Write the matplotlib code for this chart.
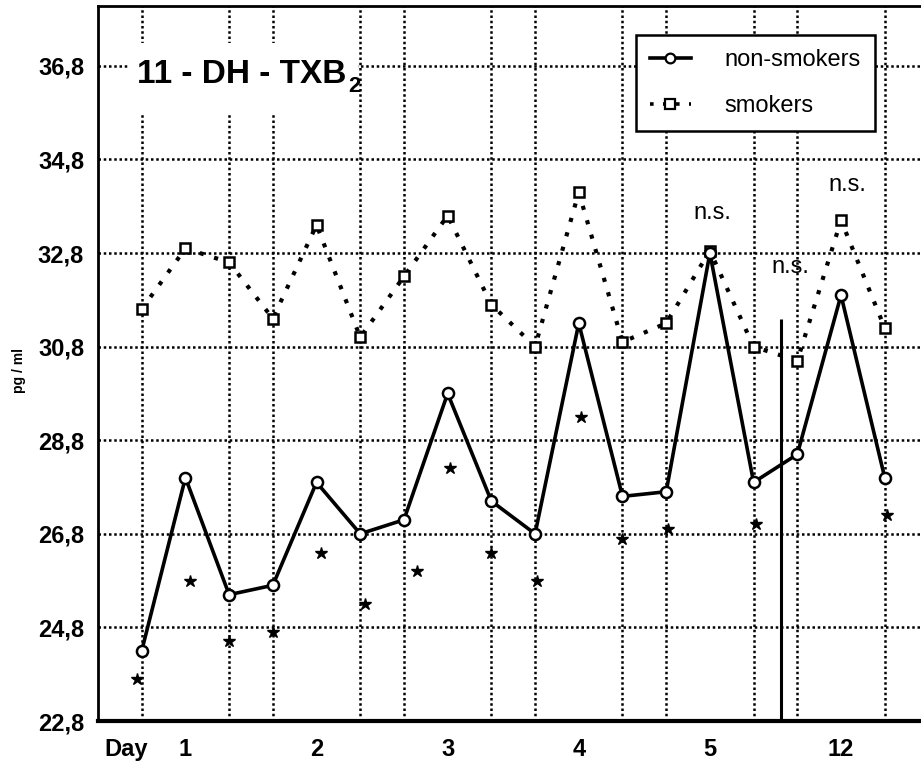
import matplotlib
matplotlib.use("Agg")  # headless backend
import matplotlib.pyplot as plt
from matplotlib.lines import Line2D
from matplotlib.patches import Rectangle

# measurement slots (3 per day), values in pg/ml
slots = list(range(18))
non_smokers = [24.3, 28.0, 25.5, 25.7, 27.9, 26.8, 27.1, 29.8, 27.5,
               26.8, 31.3, 27.6, 27.7, 32.8, 27.9, 28.5, 31.9, 28.0]
smokers = [31.6, 32.9, 32.6, 31.4, 33.4, 31.0, 32.3, 33.6, 31.7,
           30.8, 34.1, 30.9, 31.3, 32.85, 30.8, 30.5, 33.5, 31.2]

# significance stars
star_x = [-0.1, 1.1, 2.0, 3.0, 4.1, 5.1, 6.3, 7.05, 8.0, 9.05, 10.05, 11.0, 12.05, 14.05, 17.05]
star_y = [23.7, 25.8, 24.5, 24.7, 26.4, 25.3, 26.0, 28.2, 26.4, 25.8, 29.3, 26.7, 26.9, 27.0, 27.2]

# "n.s." annotations
ns_x = [13.05, 14.85, 16.15]
ns_y = [33.65, 32.5, 34.25]

day_ticks = [-0.35, 1, 4, 7, 10, 13, 16]
day_labels = ["Day", "1", "2", "3", "4", "5", "12"]
y_ticks = [22.8, 24.8, 26.8, 28.8, 30.8, 32.8, 34.8, 36.8]

break_x = 14.63      # day 5 / day 12 separator
break_top = 31.4

plt.rcParams["font.family"] = ["Liberation Sans", "DejaVu Sans"]

fig = plt.figure(figsize=(9.21, 7.69), dpi=100)
ax = fig.add_axes([98 / 921, 48 / 769, 1 - 98 / 921, 715 / 769])
ax.set_xlim(-1.0, 17.83)
ax.set_ylim(22.8, 38.08)
ax.set_axisbelow(True)

dot = (0, (1, 1.1))
ax.set_yticks(y_ticks)
ax.set_yticklabels([f"{v:.1f}".replace(".", ",") for v in y_ticks])
ax.set_xticks(day_ticks)
ax.set_xticklabels(day_labels)
ax.set_xticks(slots, minor=True)
ax.grid(True, axis="y", which="major", color="black", linestyle=dot, linewidth=1.8)
ax.grid(True, axis="x", which="minor", color="black", linestyle=dot, linewidth=1.8)
ax.tick_params(which="both", length=0)
ax.tick_params(axis="y", labelsize=17, pad=10)
ax.tick_params(axis="x", labelsize=17, pad=12)
for lbl in ax.get_xticklabels() + ax.get_yticklabels():
    lbl.set_fontweight("bold")

for side in ["left", "top"]:
    ax.spines[side].set_linewidth(2)
ax.spines["bottom"].set_linewidth(3)
ax.spines["right"].set_visible(False)

# white panel behind the title
ax.add_patch(Rectangle((-0.32, 35.79), 5.27, 1.5, facecolor="white",
                       edgecolor="none", zorder=1))
title = ax.text(-0.1, 36.62, "11 - DH - TXB", fontsize=24, fontweight="bold",
                va="center", ha="left", zorder=3)
ax.annotate("2", xy=(1, 0), xycoords=title, xytext=(1, -5),
            textcoords="offset points", fontsize=16, fontweight="bold",
            va="bottom", ha="left")

ax.plot(slots, smokers, color="black", linestyle=(0, (1, 2.6)), linewidth=3,
        marker="s", markersize=7, markerfacecolor="white",
        markeredgecolor="black", markeredgewidth=1.8, zorder=3)
ax.plot(slots, non_smokers, color="black", linestyle="-", linewidth=2.6,
        marker="o", markersize=8, markerfacecolor="white",
        markeredgecolor="black", markeredgewidth=1.8, zorder=4)
ax.plot(star_x, star_y, linestyle="none", marker="*", markersize=9,
        color="black", zorder=4)

ax.vlines(break_x, 22.8, break_top, color="black", linewidth=2.2, zorder=3)

for x, y in zip(ns_x, ns_y):
    ax.text(x, y, "n.s.", fontsize=17, ha="center", va="center", zorder=5)

ax.set_ylabel("pg / ml", fontsize=10, fontweight="bold")
ax.yaxis.set_label_coords(-0.087, 0.49)

handles = [
    Line2D([], [], color="black", linestyle="-", linewidth=2.6, marker="o",
           markersize=7, markerfacecolor="white", markeredgewidth=1.6),
    Line2D([], [], color="black", linestyle=(0, (1, 2.6)), linewidth=2.6,
           marker="s", markersize=7, markerfacecolor="white", markeredgewidth=1.6),
]
leg = ax.legend(handles, ["non-smokers", "smokers"], loc="upper left",
                bbox_to_anchor=(0.654, 0.959), fontsize=17, frameon=True,
                fancybox=False, edgecolor="black", framealpha=1,
                handlelength=1.7, handletextpad=1.45, labelspacing=1.0,
                borderpad=0.6, borderaxespad=0)
leg.get_frame().set_linewidth(1.8)
leg.set_zorder(6)

fig.savefig("out.png", dpi=100)
